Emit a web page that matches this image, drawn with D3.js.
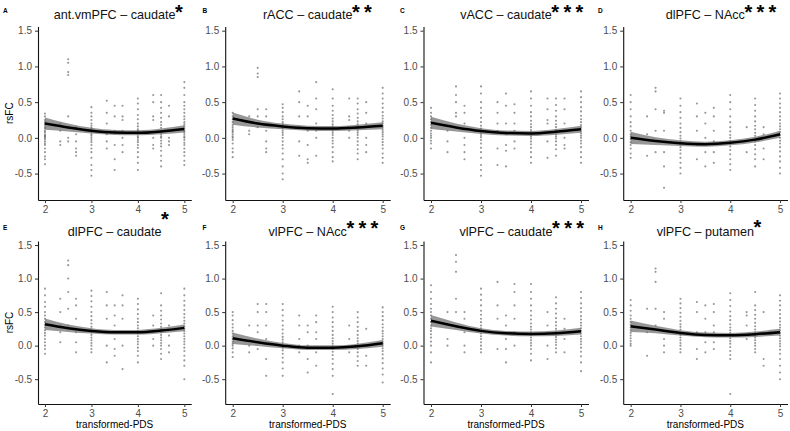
<!DOCTYPE html>
<html><head><meta charset="utf-8">
<script src="https://cdn.jsdelivr.net/npm/d3@7"></script>
<style>body{margin:0;background:#fff}svg{display:block;font-family:"Liberation Sans",Arial,Helvetica,sans-serif}</style>
</head><body><svg id="chart" width="790" height="431"></svg>
<script>
// ---------- data ----------
const pdsLevels = [2, 2.33, 2.5, 2.67, 3, 3.33, 3.5, 3.67, 4, 4.33, 4.5, 4.67, 5];
const titles = ["ant.vmPFC \u2013 caudate", "rACC \u2013 caudate", "vACC \u2013 caudate", "dlPFC \u2013 NAcc",
                "dlPFC \u2013 caudate", "vlPFC \u2013 NAcc", "vlPFC \u2013 caudate", "vlPFC \u2013 putamen"];
const stars = ["*", "**", "***", "***", "*", "***", "***", "*"];
const panelLetters = ["A", "B", "C", "D", "E", "F", "G", "H"];
const yTicks = [-0.5, 0, 0.5, 1, 1.5];
const xTicks = [2, 3, 4, 5];
const xTitle = "transformed-PDS";
const yTitle = "rsFC";

const fitX = [2, 2.5, 3, 3.5, 4, 4.5, 5];
const fitA = [0.20, 0.145, 0.10, 0.075, 0.07, 0.09, 0.125];
const fitB = [0.27, 0.20, 0.16, 0.135, 0.13, 0.145, 0.17];
const fitC = [0.21, 0.145, 0.095, 0.067, 0.062, 0.085, 0.12];
const fitD = [0.0, -0.045, -0.075, -0.088, -0.07, -0.025, 0.05];
const fitE = [0.32, 0.26, 0.22, 0.20, 0.20, 0.225, 0.265];
const fitF = [0.11, 0.05, 0.0, -0.03, -0.03, -0.01, 0.035];
const fitG = [0.37, 0.29, 0.22, 0.185, 0.175, 0.185, 0.215];
const fitH = [0.29, 0.24, 0.19, 0.16, 0.155, 0.17, 0.20];
const bandSE = [0.085, 0.055, 0.04, 0.035, 0.035, 0.04, 0.05];

const pointsA = [
 [0.34,0.3,0.25,0.22,0.2,0.18,0.15,0.13,0.1,0.08,0.05,0.03,0.02,0,-0.02,-0.05,-0.08,-0.1,-0.15,-0.2,-0.26,-0.3,-0.37],
 [0.2,0.1,-0.05,-0.1],
 [1.1,1.05,0.92,0.88,0.3,0.15,0,-0.05],
 [0.15,0.05,-0.05,-0.15,-0.2,-0.25],
 [0.43,0.35,0.3,0.25,0.2,0.17,0.14,0.12,0.1,0.08,0.05,0.03,0,-0.03,-0.06,-0.1,-0.15,-0.2,-0.28,-0.38,-0.45,-0.53],
 [0.52,0.35,0.2,0.05,-0.05,-0.15],
 [0.45,0.3,0.1,-0.1,-0.3,-0.45],
 [0.45,0.3,0.25,0.1,0,-0.1,-0.2],
 [0.55,0.48,0.4,0.32,0.26,0.2,0.16,0.12,0.1,0.08,0.05,0.02,0,-0.03,-0.06,-0.1,-0.14,-0.2,-0.27,-0.35,-0.45],
 [0.6,0.5,0.3,0.25,0,-0.1,-0.15],
 [0.6,0.5,0.42,0.35,0.28,0.22,0.18,0.14,0.1,0.08,0.05,0.02,0,-0.04,-0.08,-0.12,-0.18,-0.25,-0.32,-0.4],
 [0.45,0.3,0.1,0,-0.05,-0.1],
 [0.78,0.7,0.6,0.5,0.45,0.4,0.35,0.3,0.26,0.22,0.19,0.16,0.13,0.1,0.08,0.05,0.02,0,-0.03,-0.07,-0.1,-0.15,-0.2,-0.25,-0.32,-0.38]
];
const pointsB = [
 [0.35,0.3,0.26,0.22,0.18,0.15,0.12,0.1,0.08,0.05,0.02,0,-0.03,-0.08,-0.15,-0.2,-0.27],
 [0.3,0.1,0.05],
 [0.98,0.9,0.85,0.4,0.3,0.15],
 [0.4,0.3,0.1,-0.05,-0.15,-0.2],
 [0.47,0.42,0.36,0.3,0.26,0.22,0.19,0.16,0.13,0.1,0.07,0.04,0,-0.05,-0.1,-0.15,-0.22,-0.3,-0.4,-0.5,-0.58],
 [0.65,0.5,0.3,0.15,-0.05,-0.25],
 [0.45,0.3,0.1,-0.1,-0.3,-0.35],
 [0.78,0.55,0.4,0.2,0.1,0,-0.25],
 [0.68,0.55,0.45,0.38,0.32,0.27,0.23,0.19,0.16,0.13,0.1,0.07,0.04,0,-0.04,-0.08,-0.13,-0.2,-0.27,-0.33],
 [0.55,0.3,0.25,0.1,0],
 [0.55,0.48,0.4,0.34,0.28,0.23,0.19,0.16,0.13,0.1,0.07,0.04,0,-0.05,-0.1,-0.16,-0.22,-0.3],
 [0.5,0.35,0.2,0,-0.1,-0.2],
 [0.7,0.62,0.55,0.48,0.42,0.36,0.31,0.27,0.23,0.2,0.17,0.14,0.11,0.08,0.05,0.02,-0.02,-0.06,-0.1,-0.15,-0.22,-0.28,-0.35]
];
const pointsC = [
 [0.42,0.35,0.3,0.26,0.22,0.18,0.14,0.1,0.06,0.03,0,-0.04,-0.08,-0.15],
 [0.1,-0.05,-0.2],
 [0.72,0.6,0.5,0.35,0.3],
 [0.45,0.35,0.2,0,-0.1,-0.2,-0.3],
 [0.72,0.62,0.5,0.42,0.35,0.28,0.22,0.17,0.13,0.1,0.07,0.04,0.01,-0.03,-0.08,-0.14,-0.2,-0.28,-0.38,-0.45,-0.53],
 [0.5,0.35,0.2,0.1,-0.15,-0.38],
 [0.62,0.45,0.2,0.05,-0.1,-0.18,-0.4],
 [0.47,0.35,0.2,0.1,-0.05,-0.15],
 [0.65,0.55,0.45,0.36,0.3,0.24,0.19,0.15,0.11,0.08,0.05,0.02,-0.01,-0.05,-0.09,-0.14,-0.2,-0.27,-0.35],
 [0.55,0.4,0.25,0.2,-0.05,-0.28],
 [0.55,0.46,0.38,0.3,0.24,0.19,0.15,0.11,0.08,0.05,0.02,-0.01,-0.05,-0.1,-0.16,-0.25],
 [0.55,0.4,0.2,0,-0.1,-0.15],
 [0.65,0.57,0.5,0.43,0.37,0.31,0.26,0.22,0.18,0.15,0.12,0.09,0.06,0.03,0,-0.04,-0.08,-0.13,-0.2,-0.27,-0.35]
];
const pointsD = [
 [0.6,0.5,0.4,0.3,0.22,0.16,0.1,0.05,0.02,-0.02,-0.06,-0.1,-0.15,-0.22,-0.28],
 [0.3,0.05,-0.25],
 [0.7,0.65,0.4,0.1,-0.2],
 [0.38,0.35,0.1,-0.2,-0.4,-0.7],
 [0.55,0.45,0.36,0.28,0.2,0.14,0.08,0.03,-0.01,-0.05,-0.09,-0.13,-0.17,-0.22,-0.28,-0.35,-0.42,-0.5],
 [0.48,0.3,0.1,-0.1,-0.3],
 [0.35,0.2,0,-0.2,-0.4],
 [0.42,0.3,0.1,-0.05,-0.2,-0.35],
 [0.6,0.5,0.4,0.3,0.22,0.15,0.09,0.04,0,-0.04,-0.08,-0.12,-0.17,-0.23,-0.3,-0.37,-0.45],
 [0.15,-0.05,-0.2],
 [0.55,0.46,0.38,0.3,0.23,0.17,0.12,0.07,0.03,-0.01,-0.05,-0.1,-0.16,-0.23,-0.3,-0.4],
 [0.15,0.05,-0.15,-0.3],
 [0.62,0.55,0.48,0.42,0.36,0.3,0.25,0.2,0.16,0.12,0.08,0.04,0,-0.04,-0.08,-0.13,-0.19,-0.26,-0.33,-0.42,-0.5]
];
const pointsE = [
 [0.85,0.75,0.65,0.58,0.5,0.45,0.4,0.35,0.31,0.27,0.23,0.19,0.15,0.1,0.05,0,-0.05,-0.12],
 [0.7,0.5,0.3,0.2,0.05],
 [1.27,1.2,1.0,0.8,0.55,0.3],
 [0.7,0.6,0.4,0.2,0.05,-0.1],
 [0.82,0.74,0.66,0.58,0.5,0.44,0.38,0.33,0.28,0.24,0.2,0.16,0.12,0.08,0.04,0,-0.05,-0.1],
 [0.8,0.6,0.4,0.2,0,-0.25],
 [0.6,0.45,0.3,0.1,-0.05,-0.15],
 [0.75,0.6,0.4,0.2,0,-0.35],
 [0.7,0.62,0.54,0.47,0.4,0.35,0.3,0.26,0.22,0.18,0.14,0.1,0.06,0.02,-0.03,-0.08,-0.15,-0.25],
 [0.45,0.3,0.1,0],
 [0.78,0.6,0.52,0.45,0.39,0.33,0.28,0.24,0.2,0.16,0.12,0.08,0.04,0,-0.05,-0.12,-0.2],
 [0.3,0.15,0,-0.1],
 [0.85,0.75,0.67,0.6,0.53,0.47,0.42,0.37,0.33,0.29,0.25,0.22,0.18,0.14,0.1,0.06,0.02,-0.03,-0.08,-0.15,-0.22,-0.3,-0.5]
];
const pointsF = [
 [0.5,0.45,0.38,0.32,0.27,0.22,0.18,0.14,0.1,0.06,0.03,0,-0.04,-0.1,-0.17],
 [0.3,0,-0.1],
 [0.62,0.5,0.3,0.2,-0.05],
 [0.62,0.5,0.3,0.1,-0.2,-0.45],
 [0.62,0.53,0.45,0.37,0.3,0.24,0.18,0.13,0.09,0.05,0.01,-0.03,-0.07,-0.12,-0.18,-0.25,-0.34,-0.45],
 [0.45,0.3,0.1,0,-0.1],
 [0.3,0.2,0,-0.2,-0.4],
 [0.45,0.35,0.2,0.1,-0.1,-0.3],
 [0.58,0.5,0.42,0.35,0.28,0.22,0.16,0.11,0.07,0.03,-0.01,-0.05,-0.09,-0.14,-0.2,-0.27,-0.35,-0.45,-0.72],
 [0.3,0.1,-0.1],
 [0.5,0.42,0.35,0.28,0.22,0.16,0.11,0.07,0.03,-0.01,-0.05,-0.1,-0.16,-0.23,-0.3],
 [0.25,0,-0.15,-0.3],
 [0.57,0.5,0.44,0.38,0.32,0.27,0.22,0.18,0.14,0.1,0.06,0.03,0,-0.04,-0.08,-0.13,-0.19,-0.26,-0.34,-0.43,-0.55]
];
const pointsG = [
 [0.9,0.8,0.7,0.62,0.55,0.5,0.45,0.4,0.35,0.3,0.26,0.22,0.17,0.12,0.06,0,-0.1,-0.25],
 [0.5,0.1,0],
 [1.35,1.25,1.1,0.7,0.5],
 [0.5,0.4,0.2,0,-0.1],
 [0.85,0.76,0.68,0.6,0.52,0.46,0.4,0.35,0.3,0.26,0.22,0.18,0.14,0.1,0.05,0,-0.05,-0.1],
 [0.95,0.6,0.4,0.2,-0.05],
 [0.45,0.3,0.1,-0.05,-0.25],
 [0.92,0.8,0.6,0.4,0.2,0],
 [0.92,0.8,0.7,0.6,0.52,0.45,0.39,0.33,0.28,0.24,0.2,0.16,0.12,0.08,0.04,0,-0.05,-0.12,-0.22],
 [0.5,0.3,0,-0.2],
 [0.72,0.63,0.55,0.48,0.41,0.35,0.3,0.25,0.21,0.17,0.13,0.09,0.05,0.01,-0.04,-0.1],
 [0.4,0.25,0.1,-0.1],
 [0.8,0.71,0.63,0.56,0.5,0.44,0.39,0.34,0.3,0.26,0.22,0.18,0.14,0.1,0.06,0.02,-0.03,-0.09,-0.16,-0.25,-0.38]
];
const pointsH = [
 [0.68,0.6,0.52,0.45,0.4,0.35,0.31,0.27,0.23,0.19,0.15,0.11,0.07,0.03,0],
 [0.55,0.2,-0.15],
 [1.15,1.1,0.95,0.55,0.3],
 [0.5,0.4,0.1,0,-0.1],
 [0.7,0.63,0.56,0.49,0.43,0.37,0.32,0.28,0.24,0.2,0.16,0.12,0.08,0.04,0,-0.05,-0.1],
 [0.65,0.5,0.2,-0.05,-0.2],
 [0.6,0.4,0.2,0.05,-0.1],
 [0.62,0.5,0.3,0.2,0.05,-0.05],
 [0.78,0.68,0.59,0.51,0.44,0.38,0.32,0.27,0.23,0.19,0.15,0.11,0.07,0.03,-0.02,-0.08,-0.14,-0.2,-0.72],
 [0.5,0.45,0.3,0.1],
 [0.8,0.6,0.53,0.46,0.4,0.34,0.29,0.24,0.2,0.16,0.12,0.08,0.04,0,-0.05,-0.1],
 [0.5,0.2,-0.2,-0.3],
 [0.75,0.67,0.6,0.53,0.47,0.41,0.36,0.31,0.27,0.23,0.19,0.15,0.11,0.07,0.03,-0.01,-0.06,-0.12,-0.2,-0.3,-0.4,-0.5]
];

const fits = [fitA, fitB, fitC, fitD, fitE, fitF, fitG, fitH];
const points = [pointsA, pointsB, pointsC, pointsD, pointsE, pointsF, pointsG, pointsH];

// ---------- layout ----------
const colLeft = [38, 225.2, 423.5, 623.2];
const colRight = [191.3, 390.2, 588.5, 787.5];
const rowTop = [26.4, 241];
const rowBottom = [200, 404];
const titleBase = [19, 236];
const letterX = [3, 202.5, 400, 598];
const letterBase = [13.3, 229.5];
const starSize = 20;
const starBase = [18.8, 19.3, 19.3, 19.3, 226, 234.5, 234.5, 234];

const svg = d3.select("#chart");
const fmt = d => d.toFixed(1);
const line = d3.line().curve(d3.curveMonotoneX);
const area = d3.area().curve(d3.curveMonotoneX);

for (let i = 0; i < 8; i++) {
  const c = i % 4, r = Math.floor(i / 4);
  const x = d3.scaleLinear().domain([1.85, 5.15]).range([colLeft[c], colRight[c]]);
  const y = d3.scaleLinear().domain([-0.87, 1.56]).range([rowBottom[r], rowTop[r]]);
  const g = svg.append("g");

  // points
  const pts = [];
  points[i].forEach((col, k) => col.forEach(v => pts.push([pdsLevels[k], v])));
  g.append("g").selectAll("circle").data(pts).join("circle")
    .attr("cx", d => x(d[0])).attr("cy", d => y(d[1])).attr("r", 1.05)
    .attr("fill", "#303030").attr("fill-opacity", 0.5);

  // band + fit
  const fd = fitX.map((fx, k) => [fx, fits[i][k], bandSE[k]]);
  g.append("path").datum(fd)
    .attr("d", area.x(d => x(d[0])).y0(d => y(d[1] - d[2])).y1(d => y(d[1] + d[2])))
    .attr("fill", "#6f6f6f").attr("fill-opacity", 0.72);
  g.append("path").datum(fd)
    .attr("d", line.x(d => x(d[0])).y(d => y(d[1])))
    .attr("fill", "none").attr("stroke", "#000").attr("stroke-width", 2.5);

  // axes
  const ya = g.append("g").attr("transform", `translate(${colLeft[c]},0)`)
    .call(d3.axisLeft(y).tickValues(yTicks).tickFormat(fmt).tickSize(3).tickSizeOuter(0).tickPadding(3));
  const xa = g.append("g").attr("transform", `translate(0,${rowBottom[r]})`)
    .call(d3.axisBottom(x).tickValues(xTicks).tickFormat(d3.format("d")).tickSize(3).tickSizeOuter(0).tickPadding(3));
  [ya, xa].forEach(a => {
    a.select(".domain").attr("stroke", "#111").attr("stroke-width", 1.1);
    a.selectAll(".tick line").attr("stroke", "#333");
    a.selectAll(".tick text").attr("fill", "#4d4d4d").attr("font-size", 10)
      .attr("font-family", '"Liberation Sans",Arial,sans-serif');
  });

  // title + stars
  const cx = (colLeft[c] + colRight[c]) / 2;
  const t = g.append("text").attr("x", cx).attr("y", titleBase[r]).attr("text-anchor", "middle")
    .attr("font-size", 12.6).attr("fill", "#111").text(titles[i]);
  const w = t.node().getComputedTextLength();
  g.append("text").attr("x", cx + w / 2 - 0.5).attr("y", starBase[i])
    .attr("font-size", starSize).attr("font-weight", "bold").attr("letter-spacing", 4.3)
    .attr("fill", "#000").text(stars[i]);

  // panel letter
  g.append("text").attr("x", letterX[c]).attr("y", letterBase[r])
    .attr("font-size", 6.5).attr("font-weight", "bold").text(panelLetters[i]);

  // axis titles
  if (c === 0) {
    g.append("text").attr("transform", `translate(12.5,${(rowTop[r] + rowBottom[r]) / 2}) rotate(-90)`)
      .attr("text-anchor", "middle").attr("font-size", 10).text(yTitle);
  }
  if (r === 1) {
    g.append("text").attr("x", cx).attr("y", 428).attr("text-anchor", "middle")
      .attr("font-size", 10).text(xTitle);
  }
}
</script></body></html>
